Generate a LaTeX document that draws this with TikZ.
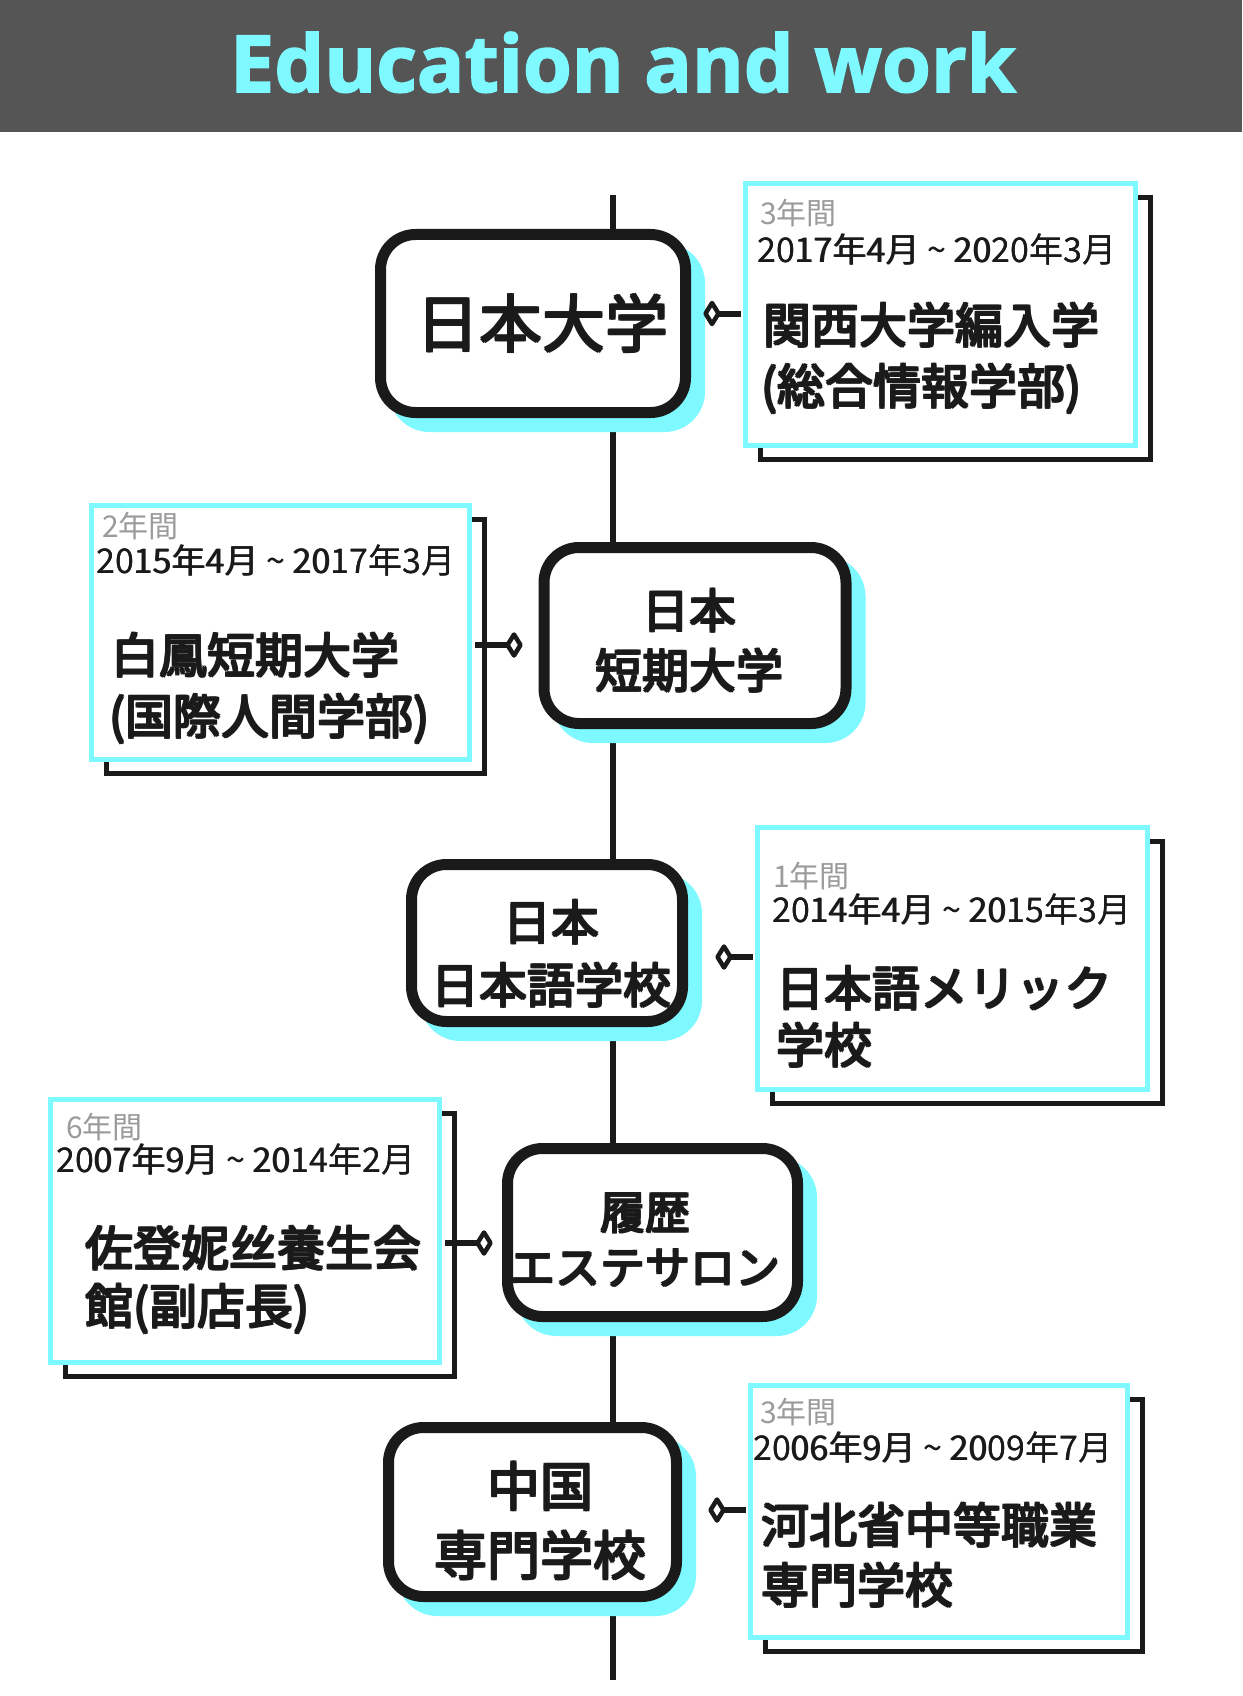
\documentclass[tikz,border=0pt]{standalone}
\usepackage{fontspec}
\setmainfont{Open Sans}
\newfontfamily\titlefont[FakeBold=2]{Open Sans}
\newfontfamily\jp{Noto Sans CJK JP}
\usetikzlibrary{shapes.geometric}
\definecolor{cy}{RGB}{125,249,255}
\definecolor{bannergray}{RGB}{85,85,85}
\definecolor{ink}{RGB}{26,26,26}
\definecolor{grayt}{RGB}{155,155,155}
\newcommand\tld{\char"7E\relax}
% overprinted (heavier) text: \heavy{dx}{dy}{text}
\newcommand\heavy[3]{\leavevmode
  \rlap{\hspace*{#1}#3}%
  \rlap{\raisebox{#2}{#3}}%
  \rlap{\raisebox{#2}{\hspace*{#1}#3}}%
  \rlap{\raisebox{0.5\dimexpr#2\relax}{\hspace*{0.5\dimexpr#1\relax}#3}}%
  #3}
\newcommand\mb[1]{\heavy{1.8pt}{1.5pt}{#1}}
\newcommand\mn[1]{\heavy{2.1pt}{1.8pt}{#1}}
\newcommand\md[1]{\leavevmode\rlap{\hspace*{0.6pt}#1}#1}
\begin{document}
\begin{tikzpicture}[x=1pt,y=-1pt,
  mainbox/.style={draw=ink, line width=11pt, fill=white, rounded corners=35pt, inner sep=0pt,
    preaction={fill=cy, draw=cy, line width=11pt, transform canvas={xshift=14pt,yshift=-14pt}}},
  maintext/.style={align=center, text=ink, inner sep=0pt},
  detailbox/.style={draw=cy, line width=5pt, fill=white, inner sep=0pt,
    preaction={draw=ink, line width=5pt, transform canvas={xshift=15pt,yshift=-14pt}}},
  dia/.style={draw=ink, fill=white, line width=4.5pt, line join=round},
  conn/.style={draw=ink, line width=6pt, shorten >=2.5pt},
  years/.style={anchor=base west, inner sep=0pt, text=grayt, font=\jp\fontsize{30}{36}\selectfont},
  dates/.style={anchor=base west, inner sep=0pt, text=ink, font=\jp\fontsize{34}{40}\selectfont},
  bigtext/.style={anchor=base west, inner sep=0pt, text=ink, font=\jp\fontsize{48}{60}\selectfont},
  spine/.style={draw=ink, line width=6pt}
]
\useasboundingbox (0,0) rectangle (1242,1696);
\fill[white] (0,0) rectangle (1242,1696);
% banner
\fill[bannergray] (0,0) rectangle (1242,132);
\node[anchor=base, inner sep=0pt, text=cy, font=\titlefont\bfseries\fontsize{79}{90}\selectfont] (title) at (623,92) {Education and work};

% spine
\coordinate (top) at (613,195);
\coordinate (bot) at (613,1680);
\draw[spine] (top) -- (bot);

% main boxes
\node[mainbox, minimum width=305pt, minimum height=178pt] (n1) at (533,323.5) {};
\node[maintext, font=\jp\fontsize{63}{70}\selectfont] (n1t) at (541,323) {\heavy{2.4pt}{2pt}{日本大学}};

\node[mainbox, minimum width=302pt, minimum height=176pt] (n2) at (695,635.5) {};
\node[maintext, font=\jp\fontsize{47}{60}\selectfont] (n2t) at (688,641) {\mn{日本}\\\mn{短期大学}};

\node[mainbox, minimum width=271pt, minimum height=157pt] (n3) at (547,943) {};
\node[maintext, font=\jp\fontsize{48}{63}\selectfont] (n3t) at (550,953.5) {\mn{日本}\\\mn{日本語学校}};

\node[mainbox, minimum width=290pt, minimum height=168pt] (n4) at (652.5,1232.5) {};
\node[maintext, font=\jp\fontsize{45}{55}\selectfont] (n4t) at (644,1240) {\mn{履歴}\\\mn{エステサロン}};

\node[mainbox, minimum width=288pt, minimum height=169pt] (n5) at (532.5,1512) {};
\node[maintext, font=\jp\fontsize{53}{69}\selectfont] (n5t) at (539,1521) {\mn{中国}\\\mn{専門学校}};

% detail boxes
\node[detailbox, minimum width=390pt, minimum height=262pt] (b1) at (940.5,314.5) {};
\node[years] (b1y) at (760,225) {3年間};
\node[dates] (b1d) at (757,262) {\md{2017年4月 \tld{} 2020年3月}};
\node[bigtext] (b1m) at (762,344) {\mb{関西大学編入学}};
\node[bigtext] (b1n) at (760,405) {\mb{(総合情報学部)}};

\node[detailbox, minimum width=378pt, minimum height=254pt] (b2) at (280.5,632.5) {};
\node[years] (b2y) at (102,537) {2年間};
\node[dates] (b2d) at (96,573) {\md{2015年4月 \tld{} 2017年3月}};
\node[bigtext] (b2m) at (110,674) {\mb{白鳳短期大学}};
\node[bigtext] (b2n) at (108,735) {\mb{(国際人間学部)}};

\node[detailbox, minimum width=390pt, minimum height=262pt] (b3) at (952.5,958.5) {};
\node[years] (b3y) at (773,887) {1年間};
\node[dates] (b3d) at (772,922) {\md{2014年4月 \tld{} 2015年3月}};
\node[bigtext] (b3m) at (775,1007) {\mb{\makebox[335pt][s]{日\hfill 本\hfill 語\hfill メ\hfill リ\hfill ッ\hfill ク}}};
\node[bigtext] (b3n) at (775,1064) {\mb{学校}};

\node[detailbox, minimum width=389pt, minimum height=263pt] (b4) at (245,1231) {};
\node[years] (b4y) at (66,1138) {6年間};
\node[dates] (b4d) at (56,1172) {\md{2007年9月 \tld{} 2014年2月}};
\node[bigtext] (b4m) at (84,1267) {\mb{佐登妮丝養生会}};
\node[bigtext] (b4n) at (84,1325) {\mb{館(副店長)}};

\node[detailbox, minimum width=376.5pt, minimum height=252pt] (b5) at (939,1511.5) {};
\node[years] (b5y) at (760,1423) {3年間};
\node[dates] (b5d) at (753,1460) {\md{2006年9月 \tld{} 2009年7月}};
\node[bigtext] (b5m) at (760,1544) {\mb{河北省中等職業}};
\node[bigtext] (b5n) at (760,1604) {\mb{専門学校}};

% connectors (diamond centre to box edge), then diamonds on top
\coordinate (d1) at (712,313.5);
\coordinate (d2) at (514,645);
\coordinate (d3) at (724,957);
\coordinate (d4) at (484,1243);
\coordinate (d5) at (717,1510);
\draw[conn] (d1) -- (d1 -| b1.west);
\draw[conn] (d2) -- (d2 -| b2.east);
\draw[conn] (d3) -- (d3 -| b3.west);
\draw[conn] (d4) -- (d4 -| b4.east);
\draw[conn] (d5) -- (d5 -| b5.west);
\foreach \d in {d1,d2,d3,d4,d5}{
  \draw[dia] (\d) ++(0,-10.5) -- ++(6.5,10.5) -- ++(-6.5,10.5) -- ++(-6.5,-10.5) -- cycle;
}
\end{tikzpicture}
\end{document}
